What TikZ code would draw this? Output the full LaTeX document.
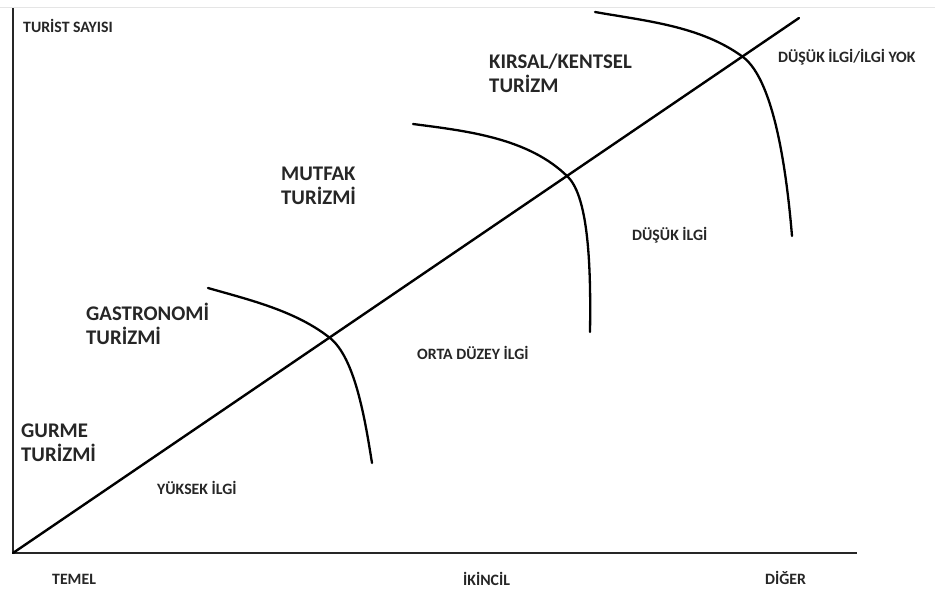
\documentclass[tikz,border=0pt]{standalone}
\usepackage{fontspec}
\setmainfont{Carlito}
\begin{document}
\begin{tikzpicture}[x=1pt,y=-1pt,
  axis/.style={line width=2.6pt, color=black!85},
  curve/.style={line width=2.3pt, color=black, line cap=round},
  big/.style={font=\bfseries\fontsize{20.8}{24}\selectfont, align=left, inner sep=0pt, text=black!85},
  small/.style={font=\bfseries\fontsize{15.8}{18}\selectfont, inner sep=0pt, text=black!85}]
\useasboundingbox (0,0) rectangle (935,590);
\fill[white] (0,0) rectangle (935,590);
\draw[black!10, line width=1pt] (0,7) -- (935,7);
\coordinate (o) at (13,553);
\coordinate (ytop) at (13,8);
\coordinate (xend) at (857,553);
\coordinate (dend) at (799,18);
\draw[axis] (ytop) -- (o) -- (xend);
\draw[curve, line width=2.4pt] (o) -- (dend);
% curves
\draw[curve] (208,288) .. controls (250,300) and (296,311) .. (330,338)
                       .. controls (355,358) and (365,419) .. (372,463);
\draw[curve] (413,124) .. controls (467,131) and (529,138) .. (568,177)
                       .. controls (589,198) and (591,270) .. (590,332);
\draw[curve] (595,12) .. controls (646,21) and (701,26) .. (743,57)
                      .. controls (775,81) and (787,176) .. (792,236);
% labels
\node[small, anchor=west] (ts) at (23,26) {TURİST SAYISI};
\node[big, anchor=west] (gurme) at (21,443) {GURME\\TURİZMİ};
\node[big, anchor=west] (gastro) at (86,324) {GASTRONOMİ\\TURİZMİ};
\node[big, anchor=west] (mutfak) at (281,186) {MUTFAK\\TURİZMİ};
\node[big, anchor=west] (kirsal) at (489,73) {KIRSAL/KENTSEL\\TURİZM};
\node[small, anchor=west] (yuksek) at (157,488) {YÜKSEK İLGİ};
\node[small, anchor=west] (orta) at (417,353) {ORTA DÜZEY İLGİ};
\node[small, anchor=west] (dusuk) at (632,235) {DÜŞÜK İLGİ};
\node[small, anchor=west] (yok) at (778,57) {DÜŞÜK İLGİ/İLGİ YOK};
\node[small, anchor=west] (temel) at (52,579) {TEMEL};
\node[small, anchor=west] (ikincil) at (463,579) {İKİNCİL};
\node[small, anchor=west] (diger) at (765,578) {DİĞER};
\end{tikzpicture}
\end{document}
